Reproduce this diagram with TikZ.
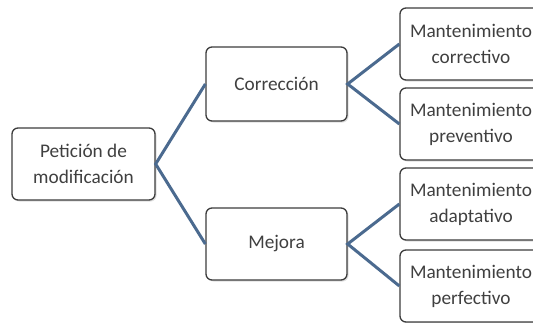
\documentclass[tikz,border=0pt]{standalone}
\usepackage{fontspec}
\setmainfont{Carlito}
\usetikzlibrary{shadows}
\definecolor{conn}{HTML}{4B6A8F}
\definecolor{bord}{HTML}{3C3C3C}
\definecolor{txt}{HTML}{404040}
\begin{document}
\begin{tikzpicture}[x=1pt,y=-1pt,
  box/.style={draw=bord, line width=1.3pt, rounded corners=6pt, fill=white,
    drop shadow={shadow xshift=1.5pt, shadow yshift=-1.5pt, opacity=0.25},
    align=center, text=txt, font=\fontsize{19.3}{26}\selectfont, inner sep=0pt},
  conn/.style={draw=conn, line width=3pt}]
\useasboundingbox (0,0) rectangle (533,322);
\node[box, minimum width=143pt, minimum height=72pt] (pet) at (83.5,164) {Petición de\\modificación};
\node[box, minimum width=141pt, minimum height=74pt] (cor) at (276.5,84) {Corrección};
\node[box, minimum width=141pt, minimum height=72pt] (mej) at (276.5,244) {Mejora};
\node[box, minimum width=142pt, minimum height=72pt] (mc) at (471,44) {Mantenimiento\\correctivo};
\node[box, minimum width=142pt, minimum height=72pt] (mp) at (471,124) {Mantenimiento\\preventivo};
\node[box, minimum width=142pt, minimum height=72pt] (ma) at (471,204) {Mantenimiento\\adaptativo};
\node[box, minimum width=142pt, minimum height=72pt] (mf) at (471,286) {Mantenimiento\\perfectivo};
\draw[conn] (cor.west) -- (pet.east) -- (mej.west);
\draw[conn] (mc.west) -- (cor.east) -- (mp.west);
\draw[conn] (ma.west) -- (mej.east) -- (mf.west);
\end{tikzpicture}
\end{document}
